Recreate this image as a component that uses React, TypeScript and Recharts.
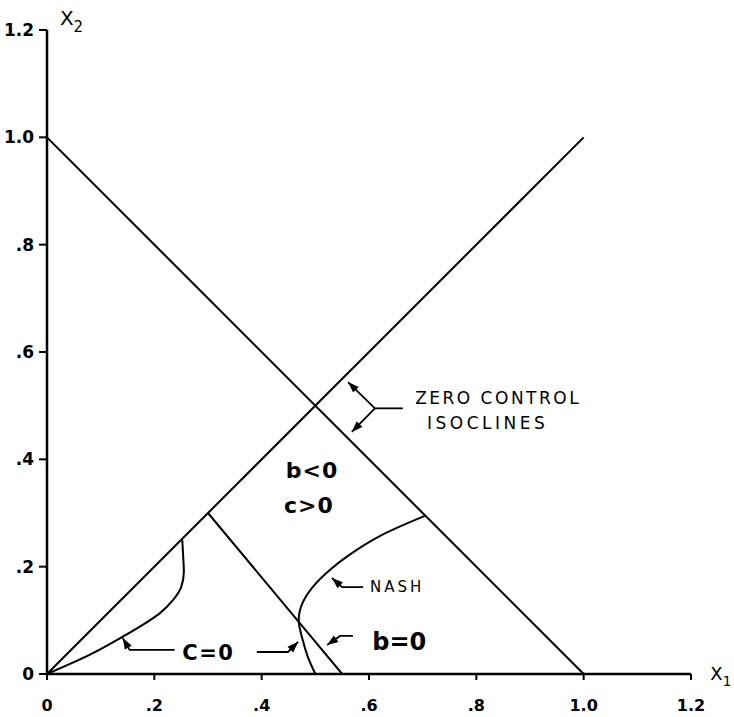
import { LineChart, Line, XAxis, YAxis, ReferenceDot } from "recharts";

// isoclines and reference lines
const diagonal = [{ x: 0, y: 0 }, { x: 1, y: 1 }];
const antiDiagonal = [{ x: 0, y: 1 }, { x: 1, y: 0 }];
const bZero = [{ x: 0.3, y: 0.3 }, { x: 0.55, y: 0 }];

// c = 0 curve near the origin
const cZeroLeft = [
    { x: 0, y: 0 }, { x: 0.08, y: 0.036 }, { x: 0.142, y: 0.07 }, { x: 0.179, y: 0.092 },
    { x: 0.21, y: 0.113 }, { x: 0.235, y: 0.138 }, { x: 0.25, y: 0.162 }, { x: 0.255, y: 0.19 },
    { x: 0.254, y: 0.215 }, { x: 0.252, y: 0.25 }
];

// c = 0 lower part continuing into the Nash curve
const nashCurve = [
    { x: 0.5, y: 0 }, { x: 0.486, y: 0.032 }, { x: 0.476, y: 0.065 }, { x: 0.469, y: 0.1 },
    { x: 0.476, y: 0.132 }, { x: 0.495, y: 0.162 }, { x: 0.527, y: 0.194 }, { x: 0.562, y: 0.221 },
    { x: 0.62, y: 0.257 }, { x: 0.705, y: 0.295 }
];

// leader arrows for the annotations
const zeroStem = [{ x: 0.663, y: 0.495 }, { x: 0.611, y: 0.495 }];
const zeroUp = [{ x: 0.611, y: 0.495 }, { x: 0.561, y: 0.544 }];
const zeroDown = [{ x: 0.611, y: 0.495 }, { x: 0.568, y: 0.451 }];
const nashArrow = [{ x: 0.589, y: 0.162 }, { x: 0.55, y: 0.162 }, { x: 0.531, y: 0.179 }];
const bArrow = [{ x: 0.57, y: 0.071 }, { x: 0.546, y: 0.071 }, { x: 0.522, y: 0.054 }];
const cLeftArrow = [{ x: 0.238, y: 0.045 }, { x: 0.154, y: 0.045 }, { x: 0.141, y: 0.067 }];
const cRightArrow = [{ x: 0.391, y: 0.041 }, { x: 0.449, y: 0.041 }, { x: 0.468, y: 0.06 }];

const axisTicks = [0, 0.2, 0.4, 0.6, 0.8, 1.0, 1.2];

const FONT = "'DejaVu Sans', sans-serif";
const PX_PER_UNIT = 537;

const fmtTick = (v: number) => {
    if (v === 0) return "0";
    if (v >= 1) return v.toFixed(1);
    return "." + Math.round(v * 10);
};

// draws a filled arrow head on the last point of a leader
const arrowHead = (pts: { x: number; y: number }[]) => (props: any) => {
    const { index, cx, cy } = props;
    if (index !== pts.length - 1 || cx == null) return <g key={`h-${index}`} />;
    const a = pts[pts.length - 2];
    const b = pts[pts.length - 1];
    const ang = Math.atan2(-(b.y - a.y) * PX_PER_UNIT, (b.x - a.x) * PX_PER_UNIT);
    const len = 11;
    const half = 4;
    const bx = cx - Math.cos(ang) * len;
    const by = cy - Math.sin(ang) * len;
    const nx = -Math.sin(ang) * half;
    const ny = Math.cos(ang) * half;
    return (
        <polygon
            key={`h-${index}`}
            points={`${cx},${cy} ${bx + nx},${by + ny} ${bx - nx},${by - ny}`}
            fill="#000"
        />
    );
};

const label = (text: string, size: number, opts: any = {}) => (p: any) => (
    <text
        x={p.cx}
        y={p.cy}
        dy="0.35em"
        fontSize={size}
        fontFamily={FONT}
        fill="#000"
        textAnchor={opts.anchor || "start"}
        fontWeight={opts.weight || "normal"}
        letterSpacing={opts.spacing || 0}
    >
        {text}
        {opts.sub ? <tspan fontSize={size * 0.75} dy="0.45em">{opts.sub}</tspan> : null}
    </text>
);

const App = () => {
    const solid = (data: any[], key: string, curve: any = "linear") => (
        <Line
            key={key}
            data={data}
            dataKey="y"
            type={curve}
            stroke="#000"
            strokeWidth={2}
            dot={false}
            activeDot={false}
            isAnimationActive={false}
        />
    );
    const leader = (data: any[], key: string, head: boolean) => (
        <Line
            key={key}
            data={data}
            dataKey="y"
            type="linear"
            stroke="#000"
            strokeWidth={1.8}
            dot={head ? arrowHead(data) : false}
            activeDot={false}
            isAnimationActive={false}
        />
    );

    return (
        <div style={{ position: "absolute", left: 0, top: 0, background: "#fff" }}>
            <LineChart width={734} height={717} margin={{ top: 30, right: 43, bottom: 3, left: 7 }}>
                <XAxis
                    type="number"
                    dataKey="x"
                    domain={[0, 1.2]}
                    ticks={axisTicks}
                    interval={0}
                    allowDataOverflow
                    height={40}
                    tickSize={6}
                    tickMargin={20}
                    tickFormatter={fmtTick}
                    axisLine={{ stroke: "#000", strokeWidth: 2.5 }}
                    tickLine={{ stroke: "#000", strokeWidth: 2 }}
                    tick={{ fill: "#000", fontSize: 16, fontWeight: "bold", fontFamily: FONT }}
                />
                <YAxis
                    type="number"
                    domain={[0, 1.2]}
                    ticks={axisTicks}
                    interval={0}
                    allowDataOverflow
                    width={40}
                    tickSize={8}
                    tickMargin={5}
                    tickFormatter={fmtTick}
                    axisLine={{ stroke: "#000", strokeWidth: 2.5 }}
                    tickLine={{ stroke: "#000", strokeWidth: 2 }}
                    tick={{ fill: "#000", fontSize: 17, fontWeight: "bold", fontFamily: FONT }}
                />

                {solid(diagonal, "diag")}
                {solid(antiDiagonal, "anti")}
                {solid(bZero, "bzero")}
                {solid(cZeroLeft, "cleft", "monotoneY")}
                {solid(nashCurve, "nash", "monotoneY")}

                {leader(zeroStem, "zs", false)}
                {leader(zeroUp, "zu", true)}
                {leader(zeroDown, "zd", true)}
                {leader(nashArrow, "na", true)}
                {leader(bArrow, "ba", true)}
                {leader(cLeftArrow, "cla", true)}
                {leader(cRightArrow, "cra", true)}

                {/* annotations */}
                <ReferenceDot x={0.686} y={0.514} r={0} ifOverflow="visible" shape={label("ZERO CONTROL", 17, { spacing: 2.5 })} />
                <ReferenceDot x={0.708} y={0.467} r={0} ifOverflow="visible" shape={label("ISOCLINES", 17, { spacing: 3.5 })} />
                <ReferenceDot x={0.494} y={0.38} r={0} ifOverflow="visible" shape={label("b<0", 22, { anchor: "middle", weight: "bold", spacing: 1 })} />
                <ReferenceDot x={0.488} y={0.315} r={0} ifOverflow="visible" shape={label("c>0", 22, { anchor: "middle", weight: "bold", spacing: 1 })} />
                <ReferenceDot x={0.602} y={0.162} r={0} ifOverflow="visible" shape={label("NASH", 15, { spacing: 3 })} />
                <ReferenceDot x={0.606} y={0.06} r={0} ifOverflow="visible" shape={label("b=0", 24, { weight: "bold" })} />
                <ReferenceDot x={0.252} y={0.039} r={0} ifOverflow="visible" shape={label("C=0", 21, { weight: "bold", spacing: 1.5 })} />
                <ReferenceDot x={0.024} y={1.222} r={0} ifOverflow="visible" shape={label("X", 20, { sub: "2" })} />
                <ReferenceDot x={1.236} y={0.0} r={0} ifOverflow="visible" shape={label("X", 18, { sub: "1" })} />
            </LineChart>
        </div>
    );
};

export default App;
